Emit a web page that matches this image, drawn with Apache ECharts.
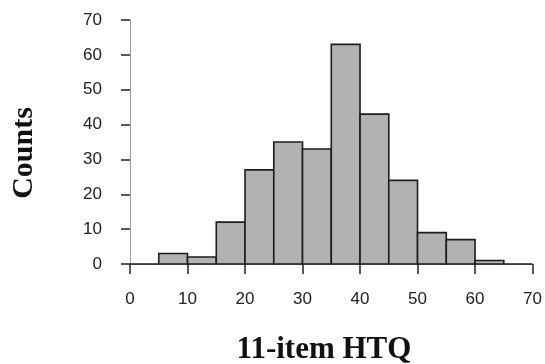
<!DOCTYPE html>
<html>
<head>
<meta charset="utf-8">
<script src="https://cdn.jsdelivr.net/npm/echarts@6/dist/echarts.min.js"></script>
<style>html,body{margin:0;padding:0;background:#fff;}#c{width:545px;height:364px;}</style>
</head>
<body>
<div id="c"></div>
<script>
var binStarts = [0, 5, 10, 15, 20, 25, 30, 35, 40, 45, 50, 55, 60, 65];
var binWidth = 5;
var counts = [0, 3, 2, 12, 27, 35, 33, 63, 43, 24, 9, 7, 1, 0];
var xTicks = [0, 10, 20, 30, 40, 50, 60, 70];
var yTicks = [0, 10, 20, 30, 40, 50, 60, 70];
var xTitle = '11-item HTQ';
var yTitle = 'Counts';

var data = binStarts.map(function (s, i) { return [s, s + binWidth, counts[i]]; });

var chart = echarts.init(document.getElementById('c'), null, {renderer: 'canvas'});
chart.setOption({
  animation: false,
  backgroundColor: '#fff',
  grid: {left: 130, right: 12, top: 20, bottom: 100},
  xAxis: {
    type: 'value', min: xTicks[0], max: xTicks[xTicks.length - 1], interval: 10,
    offset: 10,
    axisLine: {show: true, lineStyle: {color: '#9a9a9a', width: 1}},
    axisTick: {show: true, length: 10, lineStyle: {color: '#222', width: 1.5}},
    axisLabel: {margin: 17, fontFamily: '"Liberation Sans", Arial, sans-serif', fontSize: 17, color: '#222'},
    splitLine: {show: false}
  },
  yAxis: {
    type: 'value', min: yTicks[0], max: yTicks[yTicks.length - 1], interval: 10,
    offset: 20,
    axisLine: {show: true, lineStyle: {color: '#9a9a9a', width: 1}},
    axisTick: {show: true, length: 9, lineStyle: {color: '#222', width: 1.5}},
    axisLabel: {margin: 8, fontFamily: '"Liberation Sans", Arial, sans-serif', fontSize: 17, color: '#222'},
    splitLine: {show: false}
  },
  series: [{
    type: 'custom',
    data: data,
    renderItem: function (params, api) {
      var p0 = api.coord([api.value(0), api.value(2)]);
      var p1 = api.coord([api.value(1), 0]);
      return {
        type: 'rect',
        shape: {x: p0[0], y: p0[1], width: p1[0] - p0[0], height: p1[1] - p0[1]},
        style: {fill: '#b2b2b2', stroke: '#1c1c1c', lineWidth: 1.6}
      };
    }
  }],
  graphic: [
    {type: 'text', x: 324, y: 350, style: {text: xTitle, textAlign: 'center', textVerticalAlign: 'middle',
      font: 'bold 31px "Liberation Serif", "Times New Roman", serif', fill: '#111'}},
    {type: 'text', x: 24, y: 153, rotation: Math.PI / 2, style: {text: yTitle, textAlign: 'center', textVerticalAlign: 'middle',
      font: 'bold 30px "Liberation Serif", "Times New Roman", serif', fill: '#111'}}
  ]
});
</script>
</body>
</html>
